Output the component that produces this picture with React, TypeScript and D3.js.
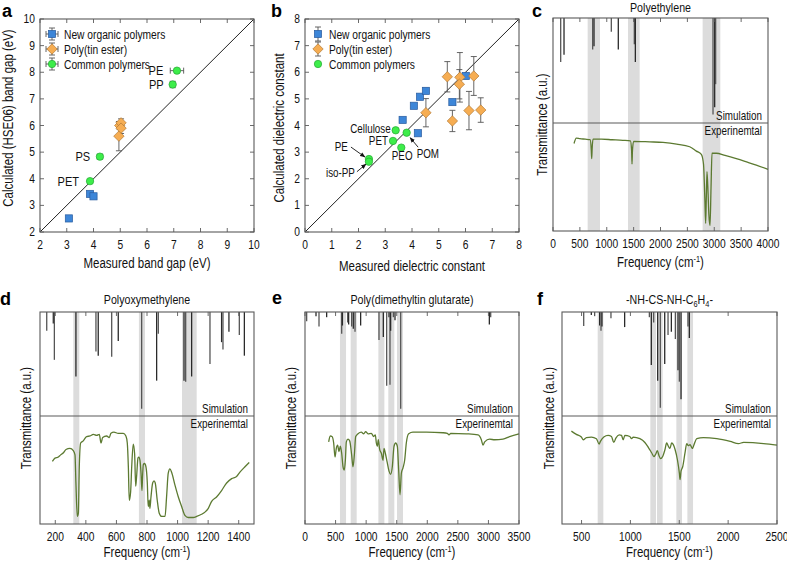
import React from 'react';
import * as d3 from 'd3';

const SANS = "'Liberation Sans',Arial,Helvetica,sans-serif";
const SX = 0.82; // narrow lettering of the original
const BLUE = '#3d86d8', BLUE_D = '#2a5c9e';
const ORANGE = '#f6ad52', ORANGE_D = '#b27a36';
const GREEN = '#3ded4a', GREEN_D = '#25a834';
const FRAME = '#5a5a5a';
const EXP = '#5c7a31';
const BAND = '#dcdcdc';

// ---------------- Panel a : band gap ----------------
const gapTicks = [2, 3, 4, 5, 6, 7, 8, 9, 10];
// [measured, calculated]
const gapNewOrganic: number[][] = [[3.08, 2.51], [3.87, 3.43], [4.0, 3.34]];
// [measured, calculated, calc error]
const gapTinEster: number[][] = [[4.95, 5.6, 0.55], [4.98, 6.0, 0.15], [5.03, 6.1, 0.15], [5.03, 5.9, 0.2]];
const gapCommonNames = ['PE', 'PP', 'PS', 'PET'];
// [measured, calculated, measured error, calc error]
const gapCommon: number[][] = [[7.12, 8.06, 0.25, 0], [6.96, 7.54, 0, 0.12], [4.24, 4.83, 0.1, 0], [3.87, 3.91, 0, 0]];

// ---------------- Panel b : dielectric constant ----------------
const dielTicks = [0, 1, 2, 3, 4, 5, 6, 7, 8];
// [measured, calculated, calc error]
const dielNewOrganic: number[][] = [[3.65, 4.21, 0], [4.07, 4.74, 0], [4.30, 5.08, 0], [4.52, 5.30, 0.1], [4.22, 3.71, 0], [5.51, 4.88, 0], [6.01, 5.86, 0]];
const dielTinEster: number[][] = [[5.32, 5.83, 0.57], [5.79, 5.81, 0.93], [5.77, 5.55, 0.55], [6.31, 5.86, 0.73], [4.52, 4.48, 0.53], [5.51, 4.17, 0.4], [6.13, 4.56, 0.72], [6.57, 4.58, 0.46]];
const dielCommonNames = ['Cellulose', 'POM', 'PET', 'PEO', 'PE', 'iso-PP'];
const dielCommon: number[][] = [[3.39, 3.82], [3.80, 3.73], [3.29, 3.42], [3.60, 3.17], [2.39, 2.74], [2.39, 2.64]];

const legendNames = ['New organic polymers', 'Poly(tin ester)', 'Common polymers'];

// ---------------- Spectra ----------------
// sticks: [frequency, relative depth]; bands: [from, to]; exp: [frequency, relative transmittance]
const peTicks = [0, 500, 1000, 1500, 2000, 2500, 3000, 3500, 4000];
const peBands = [[645, 874], [1395, 1612], [2784, 3113]];
const peSticks = [[143, 0.42], [205, 0.35], [738, 0.30], [763, 0.27], [1085, 0.13], [1215, 0.30], [1513, 0.25], [1532, 0.42], [2977, 0.92], [3008, 0.85], [3026, 0.63]];
const peExp = [[391, 0.81], [434, 0.86], [500, 0.855], [600, 0.85], [690, 0.845], [712, 0.75], [720, 0.67], [728, 0.76], [744, 0.85], [900, 0.85], [1100, 0.845], [1300, 0.84], [1440, 0.835], [1462, 0.75], [1470, 0.62], [1478, 0.74], [1500, 0.83], [1800, 0.825], [2047, 0.82], [2300, 0.805], [2543, 0.78], [2667, 0.74], [2760, 0.71], [2800, 0.62], [2825, 0.3], [2840, 0.07], [2852, 0.3], [2865, 0.55], [2885, 0.35], [2900, 0.15], [2921, 0.05], [2940, 0.4], [2958, 0.72], [3039, 0.72], [3200, 0.70], [3411, 0.67], [3600, 0.64], [3783, 0.61], [4000, 0.57]];

const pomTicks = [200, 400, 600, 800, 1000, 1200, 1400];
const pomBands = [[318, 357], [747, 787], [1029, 1125]];
const pomSticks = [[144, 0.18], [187, 0.11], [194, 0.46], [335, 0.62], [466, 0.38], [481, 0.42], [569, 0.43], [612, 0.28], [765, 0.93], [863, 0.66], [874, 0.21], [1042, 0.66], [1053, 0.67], [1092, 0.62], [1212, 0.5], [1288, 0.29], [1297, 0.36], [1336, 0.19], [1404, 0.22], [1437, 0.42]];
const pomExp = [[181, 0.58], [198, 0.61], [220, 0.62], [235, 0.64], [253, 0.66], [270, 0.69], [296, 0.7], [318, 0.68], [329, 0.64], [335, 0.38], [344, 0.07], [351, 0.1], [357, 0.53], [366, 0.75], [383, 0.77], [405, 0.81], [427, 0.815], [449, 0.83], [471, 0.82], [488, 0.83], [499, 0.75], [510, 0.8], [536, 0.815], [553, 0.8], [564, 0.84], [584, 0.85], [612, 0.84], [645, 0.84], [662, 0.815], [671, 0.75], [678, 0.53], [684, 0.22], [693, 0.3], [700, 0.53], [710, 0.74], [719, 0.65], [726, 0.35], [732, 0.44], [741, 0.61], [747, 0.62], [754, 0.59], [761, 0.47], [767, 0.31], [771, 0.44], [776, 0.55], [784, 0.56], [793, 0.53], [802, 0.38], [808, 0.16], [815, 0.22], [819, 0.145], [826, 0.25], [837, 0.38], [846, 0.4], [854, 0.38], [867, 0.22], [880, 0.1], [896, 0.07], [918, 0.07], [928, 0.25], [939, 0.47], [950, 0.51], [961, 0.48], [983, 0.36], [1005, 0.25], [1027, 0.16], [1048, 0.08], [1070, 0.06], [1103, 0.06], [1125, 0.07], [1157, 0.09], [1179, 0.11], [1201, 0.145], [1223, 0.21], [1255, 0.25], [1288, 0.31], [1321, 0.38], [1354, 0.42], [1386, 0.44], [1408, 0.48], [1441, 0.53], [1469, 0.57]];

const tinTicks = [0, 500, 1000, 1500, 2000, 2500, 3000, 3500];
const tinBands = [[572, 671], [747, 845], [1200, 1298], [1363, 1461], [1505, 1603]];
const tinSticks = [[27, 0.09], [180, 0.04], [229, 0.14], [354, 0.05], [600, 0.21], [612, 0.13], [698, 0.1], [714, 0.12], [763, 0.14], [790, 0.16], [818, 0.19], [910, 0.13], [1210, 0.27], [1281, 0.24], [1336, 0.71], [1374, 0.05], [1390, 0.7], [1401, 0.18], [1445, 0.05], [1472, 0.08], [1565, 0.93], [3015, 0.12], [3037, 0.05]];
const tinExp = [[387, 0.76], [414, 0.815], [442, 0.81], [469, 0.75], [491, 0.62], [512, 0.7], [534, 0.73], [556, 0.67], [578, 0.72], [600, 0.655], [622, 0.53], [643, 0.5], [660, 0.59], [676, 0.76], [703, 0.785], [731, 0.77], [763, 0.64], [785, 0.53], [807, 0.64], [829, 0.81], [867, 0.835], [921, 0.85], [960, 0.835], [992, 0.855], [1030, 0.835], [1085, 0.84], [1123, 0.81], [1150, 0.825], [1167, 0.75], [1183, 0.72], [1199, 0.78], [1221, 0.69], [1249, 0.655], [1276, 0.59], [1292, 0.7], [1314, 0.655], [1341, 0.58], [1374, 0.49], [1401, 0.46], [1428, 0.53], [1456, 0.72], [1483, 0.75], [1510, 0.72], [1532, 0.5], [1554, 0.27], [1576, 0.47], [1603, 0.52], [1630, 0.59], [1657, 0.75], [1696, 0.835], [1766, 0.85], [1985, 0.85], [2257, 0.845], [2328, 0.84], [2355, 0.825], [2383, 0.84], [2639, 0.835], [2830, 0.825], [2884, 0.78], [2911, 0.73], [2939, 0.76], [3020, 0.785], [3102, 0.78], [3238, 0.785], [3347, 0.81], [3500, 0.835]];

const thioTicks = [500, 1000, 1500, 2000, 2500];
const thioBands = [[665, 723], [1204, 1262], [1272, 1330], [1470, 1528], [1583, 1641]];
const thioSticks = [[522, 0.135], [600, 0.03], [634, 0.04], [685, 0.13], [699, 0.18], [709, 0.14], [801, 0.06], [941, 0.145], [1194, 0.05], [1214, 0.51], [1238, 0.1], [1279, 0.66], [1306, 0.92], [1351, 0.5], [1385, 0.22], [1419, 0.19], [1460, 0.26], [1487, 0.56], [1501, 0.67], [1518, 0.84], [1589, 0.14], [1603, 0.25]];
const thioExp = [[396, 0.86], [447, 0.83], [498, 0.805], [516, 0.78], [550, 0.8], [601, 0.805], [652, 0.79], [680, 0.74], [693, 0.765], [728, 0.805], [772, 0.82], [806, 0.81], [830, 0.755], [851, 0.795], [885, 0.825], [909, 0.82], [926, 0.78], [943, 0.82], [994, 0.81], [1012, 0.79], [1029, 0.805], [1097, 0.79], [1148, 0.755], [1183, 0.71], [1217, 0.66], [1241, 0.625], [1261, 0.65], [1275, 0.68], [1292, 0.635], [1309, 0.605], [1330, 0.625], [1354, 0.69], [1371, 0.75], [1388, 0.72], [1405, 0.7], [1422, 0.75], [1439, 0.735], [1457, 0.69], [1481, 0.595], [1501, 0.47], [1508, 0.41], [1518, 0.49], [1535, 0.53], [1559, 0.66], [1576, 0.745], [1593, 0.725], [1610, 0.735], [1634, 0.7], [1651, 0.735], [1679, 0.79], [1747, 0.8], [1884, 0.79], [2021, 0.765], [2106, 0.745], [2158, 0.755], [2363, 0.745], [2500, 0.73]];

// narrow text helper (horizontally condensed Liberation Sans)
function T({ x, y, anchor = 'start', size = 12, rot = false, children, fill = '#111' }: any) {
  return <g transform={`translate(${x},${y})${rot ? ' rotate(-90)' : ''} scale(${SX},1)`}>
    <text x={0} y={0} textAnchor={anchor} fontSize={size} fontFamily={SANS} fill={fill}>{children}</text>
  </g>;
}

// ---------------- markers ----------------
const Square = ({ cx, cy }: any) => <rect x={cx - 3.6} y={cy - 3.6} width={7.2} height={7.2} fill={BLUE} stroke={BLUE_D} strokeWidth={0.7} />;
const Diamond = ({ cx, cy }: any) => <path d={`M${cx},${cy - 5.2}L${cx + 5.2},${cy}L${cx},${cy + 5.2}L${cx - 5.2},${cy}Z`} fill={ORANGE} stroke={ORANGE_D} strokeWidth={0.7} />;
const Dot = ({ cx, cy }: any) => <circle cx={cx} cy={cy} r={3.7} fill={GREEN} stroke={GREEN_D} strokeWidth={0.7} />;

function VErr({ x, y1, y2 }: any) {
  return <g stroke="#555" strokeWidth={0.9}>
    <line x1={x} x2={x} y1={y1} y2={y2} />
    <line x1={x - 3} x2={x + 3} y1={y1} y2={y1} />
    <line x1={x - 3} x2={x + 3} y1={y2} y2={y2} />
  </g>;
}
function HErr({ y, x1, x2 }: any) {
  return <g stroke="#555" strokeWidth={0.9}>
    <line x1={x1} x2={x2} y1={y} y2={y} />
    <line x1={x1} x2={x1} y1={y - 3} y2={y + 3} />
    <line x1={x2} x2={x2} y1={y - 3} y2={y + 3} />
  </g>;
}

function Frame({ left, right, top, bottom }: any) {
  return <rect x={left} y={top} width={right - left} height={bottom - top} fill="none" stroke={FRAME} strokeWidth={1.1} />;
}

function InTicks({ x, y, xTicks, yTicks, left, right, top, bottom }: any) {
  const L = 4;
  return <g stroke={FRAME} strokeWidth={0.9}>
    {xTicks.map((t: number, i: number) => <g key={'x' + i}>
      <line x1={x(t)} x2={x(t)} y1={bottom} y2={bottom - L} />
      <line x1={x(t)} x2={x(t)} y1={top} y2={top + L} />
    </g>)}
    {yTicks.map((t: number, i: number) => <g key={'y' + i}>
      <line x1={left} x2={left + L} y1={y(t)} y2={y(t)} />
      <line x1={right} x2={right - L} y1={y(t)} y2={y(t)} />
    </g>)}
  </g>;
}

const Letter = ({ x, y, children }: any) => <text x={x} y={y} fontSize={18} fontWeight="bold" fontFamily={SANS}>{children}</text>;

function PanelA() {
  const left = 40, right = 254, top = 19, bottom = 232;
  const x = d3.scaleLinear().domain([2, 10]).range([left, right]);
  const y = d3.scaleLinear().domain([2, 10]).range([bottom, top]);
  const labelDx = [-3, -5, -3, -7];
  return <g>
    <line x1={x(2)} y1={y(2)} x2={x(10)} y2={y(10)} stroke="#222" strokeWidth={1} />
    {gapTinEster.map((d, i) => <VErr key={'te' + i} x={x(d[0])} y1={y(d[1] - d[2])} y2={y(d[1] + d[2])} />)}
    {gapCommon.map((d, i) => <g key={'ce' + i}>
      {d[2] > 0 && <HErr y={y(d[1])} x1={x(d[0] - d[2])} x2={x(d[0] + d[2])} />}
      {d[3] > 0 && <VErr x={x(d[0])} y1={y(d[1] - d[3])} y2={y(d[1] + d[3])} />}
    </g>)}
    {gapNewOrganic.map((d, i) => <Square key={'n' + i} cx={x(d[0])} cy={y(d[1])} />)}
    {gapTinEster.map((d, i) => <Diamond key={'t' + i} cx={x(d[0])} cy={y(d[1])} />)}
    {gapCommon.map((d, i) => <Dot key={'c' + i} cx={x(d[0])} cy={y(d[1])} />)}
    {gapCommon.map((d, i) => <T key={'l' + i} x={x(d[0] - d[2]) - 4 + labelDx[i]} y={y(d[1]) + 4.5} anchor="end" size={13.5}>{gapCommonNames[i]}</T>)}
    <Frame left={left} right={right} top={top} bottom={bottom} />
    <InTicks x={x} y={y} xTicks={gapTicks} yTicks={gapTicks} left={left} right={right} top={top} bottom={bottom} />
    {gapTicks.map((t, i) => <T key={'xt' + i} x={x(t)} y={bottom + 17} anchor="middle" size={12.5}>{t}</T>)}
    {gapTicks.map((t, i) => <T key={'yt' + i} x={left - 5} y={y(t) + 4} anchor="end" size={12.5}>{t}</T>)}
    <T x={(left + right) / 2} y={268} anchor="middle" size={14}>Measured band gap (eV)</T>
    <T x={13} y={118} rot anchor="middle" size={14}>Calculated (HSE06) band gap (eV)</T>
    {legendNames.map((n, i) => {
      const ly = 34 + i * 15, lx = 52;
      return <g key={'lg' + i}>
        <HErr y={ly} x1={lx - 6} x2={lx + 6} />
        <VErr x={lx} y1={ly - 6} y2={ly + 6} />
        {i === 0 ? <Square cx={lx} cy={ly} /> : i === 1 ? <Diamond cx={lx} cy={ly} /> : <Dot cx={lx} cy={ly} />}
        <T x={64} y={ly + 4.5} size={12.5}>{n}</T>
      </g>;
    })}
    <Letter x={2} y={16.5}>a</Letter>
  </g>;
}

function PanelB() {
  const left = 305, right = 519, top = 19, bottom = 232;
  const x = d3.scaleLinear().domain([0, 8]).range([left, right]);
  const y = d3.scaleLinear().domain([0, 8]).range([bottom, top]);
  // label placement relative to points (pixels)
  const lab: any[] = [
    { dx: -5, dy: 3, anchor: 'end' },
    { dx: 10, dy: 25.5, anchor: 'start', ax: [11.5, 14.5], at: [3.5, 5] },
    { dx: -5, dy: 4.5, anchor: 'end' },
    { dx: -9.5, dy: 12.5, anchor: 'start' },
    { dx: -21, dy: -8, anchor: 'end', ax: [-18, -12], at: [-4, -2] },
    { dx: -14, dy: 15.5, anchor: 'end', ax: [-12, 10], at: [-3, 2.5] },
  ];
  return <g>
    <defs>
      <marker id="arr" viewBox="0 0 10 10" refX={9} refY={5} markerWidth={6} markerHeight={6} orient="auto-start-reverse">
        <path d="M0,1L10,5L0,9Z" fill="#111" />
      </marker>
    </defs>
    <line x1={x(0)} y1={y(0)} x2={x(8)} y2={y(8)} stroke="#222" strokeWidth={1} />
    {dielTinEster.map((d, i) => <VErr key={'te' + i} x={x(d[0])} y1={y(d[1] - d[2])} y2={y(d[1] + d[2])} />)}
    {dielNewOrganic.filter(d => d[2] > 0).map((d, i) => <VErr key={'ne' + i} x={x(d[0])} y1={y(d[1] - d[2])} y2={y(d[1] + d[2])} />)}
    {dielNewOrganic.map((d, i) => <Square key={'n' + i} cx={x(d[0])} cy={y(d[1])} />)}
    {dielTinEster.map((d, i) => <Diamond key={'t' + i} cx={x(d[0])} cy={y(d[1])} />)}
    {dielCommon.map((d, i) => <Dot key={'c' + i} cx={x(d[0])} cy={y(d[1])} />)}
    {dielCommon.map((d, i) => {
      const px = x(d[0]), py = y(d[1]), L = lab[i];
      return <g key={'l' + i}>
        <T x={px + L.dx} y={py + L.dy} anchor={L.anchor} size={12}>{dielCommonNames[i]}</T>
        {L.ax && <line x1={px + L.ax[0]} y1={py + L.ax[1]} x2={px + L.at[0]} y2={py + L.at[1]} stroke="#111" strokeWidth={0.9} markerEnd="url(#arr)" />}
      </g>;
    })}
    <Frame left={left} right={right} top={top} bottom={bottom} />
    <InTicks x={x} y={y} xTicks={dielTicks} yTicks={dielTicks} left={left} right={right} top={top} bottom={bottom} />
    {dielTicks.map((t, i) => <T key={'xt' + i} x={x(t)} y={bottom + 17} anchor="middle" size={12.5}>{t}</T>)}
    {dielTicks.map((t, i) => <T key={'yt' + i} x={left - 5} y={y(t) + 4} anchor="end" size={12.5}>{t}</T>)}
    <T x={(left + right) / 2} y={271} anchor="middle" size={14}>Measured dielectric constant</T>
    <T x={284} y={128} rot anchor="middle" size={14}>Calculated dielectric constant</T>
    {legendNames.map((n, i) => {
      const ly = 34 + i * 15, lx = 318;
      return <g key={'lg' + i}>
        {i < 2 && <VErr x={lx} y1={ly - 7} y2={ly + 7} />}
        {i === 0 ? <Square cx={lx} cy={ly} /> : i === 1 ? <Diamond cx={lx} cy={ly} /> : <Dot cx={lx} cy={ly} />}
        <T x={329} y={ly + 4.5} size={12.5}>{n}</T>
      </g>;
    })}
    <Letter x={271} y={16.5}>b</Letter>
  </g>;
}

function Spectrum(p: any) {
  const { left, right, top, mid, bottom, domain, ticks, bands, sticks, exp, title, ylabelX, letter, letterX, letterY, titleY, xlabelY } = p;
  const x = d3.scaleLinear().domain(domain).range([left, right]);
  const ys = d3.scaleLinear().domain([0, 1]).range([top, mid]);
  const ye = d3.scaleLinear().domain([0, 1]).range([bottom, mid]);
  const line = d3.line<number[]>().x(d => x(d[0])).y(d => ye(d[1])).curve(d3.curveMonotoneX);
  const cx = (left + right) / 2, cy = (top + bottom) / 2;
  return <g>
    {bands.map((b: number[], i: number) => <rect key={'b' + i} x={x(b[0])} y={top} width={x(b[1]) - x(b[0])} height={bottom - top} fill={BAND} />)}
    {sticks.map((s: number[], i: number) => <line key={'s' + i} x1={x(s[0])} x2={x(s[0])} y1={top} y2={ys(s[1])} stroke={i % 2 ? '#2a2a2a' : '#555'} strokeWidth={1.3} />)}
    <path d={line(exp) || ''} fill="none" stroke={EXP} strokeWidth={1.3} />
    <Frame left={left} right={right} top={top} bottom={bottom} />
    <line x1={left} x2={right} y1={mid} y2={mid} stroke={FRAME} strokeWidth={1.1} />
    <InTicks x={x} y={ys} xTicks={ticks} yTicks={[]} left={left} right={right} top={top} bottom={bottom} />
    {ticks.map((t: number, i: number) => <T key={'xt' + i} x={x(t)} y={bottom + 17} anchor="middle" size={12.5}>{t}</T>)}
    <T x={right - 6} y={mid - 3} anchor="end" size={12}>Simulation</T>
    <T x={right - 6} y={mid + 12} anchor="end" size={12}>Experinemtal</T>
    <T x={cx} y={xlabelY} anchor="middle" size={14}>Frequency (cm<tspan dy={-5} fontSize={9}>-1</tspan><tspan dy={5}>)</tspan></T>
    <T x={ylabelX} y={cy} rot anchor="middle" size={14}>Transmittance (a.u.)</T>
    <T x={cx} y={titleY} anchor="middle" size={13}>{title}</T>
    <Letter x={letterX} y={letterY}>{letter}</Letter>
  </g>;
}

export default function App() {
  const thioTitle = <>-NH-CS-NH-C<tspan dy={3} fontSize={9}>6</tspan><tspan dy={-3}>H</tspan><tspan dy={3} fontSize={9}>4</tspan><tspan dy={-3}>-</tspan></>;
  return <svg width={787} height={561} style={{ position: 'absolute', left: 0, top: 0, display: 'block', background: '#fff' }}>
    <rect width={787} height={561} fill="#fff" />
    <PanelA />
    <PanelB />
    <Spectrum left={553} right={768} top={18} mid={123} bottom={231} domain={[0, 4000]} ticks={peTicks} bands={peBands} sticks={peSticks} exp={peExp}
      title="Polyethylene" titleY={12} ylabelX={547} xlabelY={267} letter="c" letterX={532} letterY={16.5} />
    <Spectrum left={40} right={254} top={312} mid={416} bottom={524} domain={[100, 1500]} ticks={pomTicks} bands={pomBands} sticks={pomSticks} exp={pomExp}
      title="Polyoxymethylene" titleY={304} ylabelX={31} xlabelY={557} letter="d" letterX={0} letterY={305} />
    <Spectrum left={305} right={519} top={312} mid={416} bottom={524} domain={[0, 3500]} ticks={tinTicks} bands={tinBands} sticks={tinSticks} exp={tinExp}
      title="Poly(dimethyltin glutarate)" titleY={304} ylabelX={296} xlabelY={557} letter="e" letterX={272} letterY={304} />
    <Spectrum left={562} right={777} top={312} mid={416} bottom={524} domain={[300, 2500]} ticks={thioTicks} bands={thioBands} sticks={thioSticks} exp={thioExp}
      title={thioTitle} titleY={304} ylabelX={554} xlabelY={557} letter="f" letterX={537} letterY={305} />
  </svg>;
}
